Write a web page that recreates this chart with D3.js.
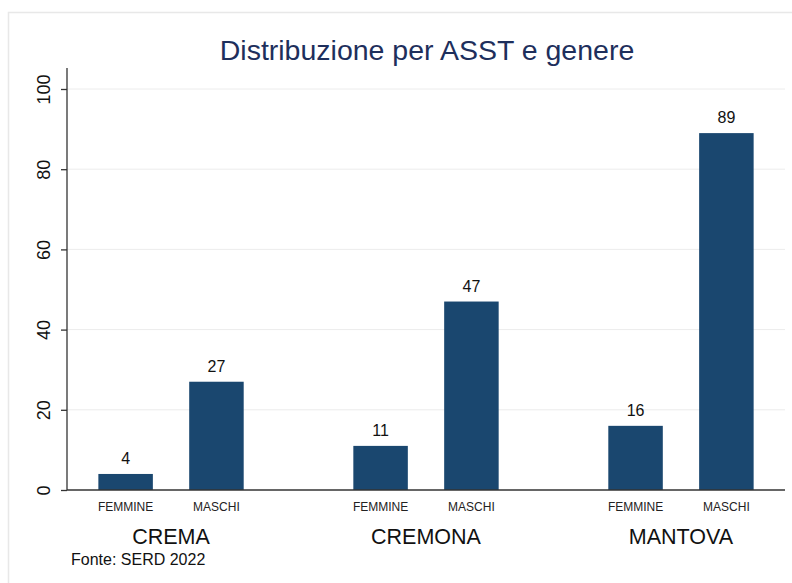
<!DOCTYPE html>
<html><head><meta charset="utf-8">
<script src="https://cdn.jsdelivr.net/npm/d3@7"></script>
<style>body{margin:0;background:#fff}svg{display:block}text{font-family:"Liberation Sans",Arial,sans-serif}</style>
</head><body>
<svg id="c" width="792" height="583"></svg>
<script>
const groups = ["CREMA","CREMONA","MANTOVA"];
const genders = ["FEMMINE","MASCHI"];
const femmine = [4, 11, 16];
const maschi = [27, 47, 89];
const yTicks = [0,20,40,60,80,100];
const title = "Distribuzione per ASST e genere";
const note = "Fonte: SERD 2022";

const svg = d3.select("#c");
const mLeft = 67, mRight = 785, mTop = 89, mBottom = 490;
const barColor = "#1a476f";

// outer panel border
svg.append("rect").attr("x",8.5).attr("y",12.5).attr("width",800).attr("height",600)
  .attr("fill","#fff").attr("stroke","#e8e8e8").attr("stroke-width",1.5);

const y = d3.scaleLinear().domain([0,100]).range([mBottom, mTop]);
const x0 = d3.scaleBand().domain(groups).range([mLeft, mRight]).paddingInner(0.43).paddingOuter(0.123);
const x1 = d3.scaleBand().domain(genders).range([0, x0.bandwidth()]).paddingInner(0.4).paddingOuter(0);

// gridlines
svg.append("g").selectAll("line").data(yTicks.filter(d=>d>0)).join("line")
  .attr("x1",mLeft).attr("x2",mRight).attr("y1",d=>y(d)).attr("y2",d=>y(d))
  .attr("stroke","#ececec").attr("stroke-width",1);

const data = [];
groups.forEach((g,i)=>{
  data.push({g, s:"FEMMINE", v:femmine[i]});
  data.push({g, s:"MASCHI", v:maschi[i]});
});

svg.append("g").selectAll("rect").data(data).join("rect")
  .attr("x",d=>x0(d.g)+x1(d.s)).attr("width",x1.bandwidth())
  .attr("y",d=>y(d.v)).attr("height",d=>y(0)-y(d.v))
  .attr("fill",barColor);

svg.append("g").selectAll("text").data(data).join("text")
  .attr("x",d=>x0(d.g)+x1(d.s)+x1.bandwidth()/2).attr("y",d=>y(d.v)-10)
  .attr("text-anchor","middle").attr("font-size",16).attr("fill","#111")
  .text(d=>d.v);

// y axis
const yAxis = d3.axisLeft(y).tickValues(yTicks).tickSize(6).tickPadding(5);
const ya = svg.append("g").attr("transform",`translate(${mLeft},0)`).call(yAxis);
ya.select(".domain").attr("d",`M0,68V${mBottom}`).attr("stroke","#333").attr("stroke-width",1.3);
ya.selectAll(".tick line").attr("stroke","#333").attr("stroke-width",1.3);
ya.selectAll(".tick text").attr("transform","rotate(-90)").attr("x",0).attr("y",-17)
  .attr("dy",null).attr("text-anchor","middle").attr("font-size",18).attr("fill","#111")
  .attr("font-family","Liberation Sans, Arial, sans-serif");

// x axis line
svg.append("line").attr("x1",mLeft).attr("x2",mRight).attr("y1",mBottom).attr("y2",mBottom)
  .attr("stroke","#333").attr("stroke-width",1.3);

// sub labels
svg.append("g").selectAll("text").data(data).join("text")
  .attr("x",d=>x0(d.g)+x1(d.s)+x1.bandwidth()/2).attr("y",510.5)
  .attr("text-anchor","middle").attr("font-size",12).attr("fill","#222")
  .text(d=>d.s);

// group labels
svg.append("g").selectAll("text").data(groups).join("text")
  .attr("x",d=>x0(d)+x0.bandwidth()/2).attr("y",543.5)
  .attr("text-anchor","middle").attr("font-size",21.5).attr("fill","#111")
  .text(d=>d);

svg.append("text").attr("x",427).attr("y",60).attr("text-anchor","middle")
  .attr("font-size",28.5).attr("fill","#1e2f5c").text(title);

svg.append("text").attr("x",71).attr("y",565).attr("font-size",16).attr("fill","#111").text(note);
</script>
</body></html>
